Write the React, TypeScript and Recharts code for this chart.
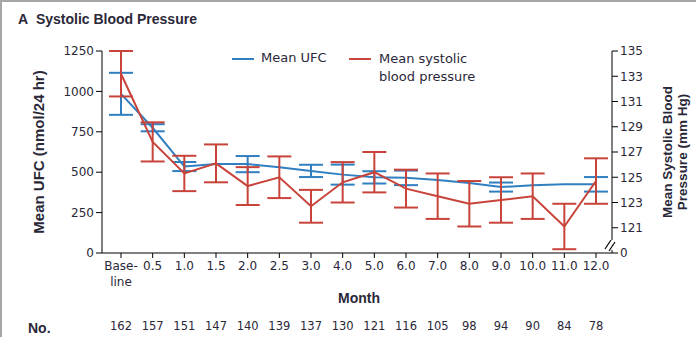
import React from 'react';
import { LineChart, Line, XAxis, YAxis, ErrorBar } from 'recharts';

// months after start of treatment
const months = ['Base-\nline', '0.5', '1.0', '1.5', '2.0', '2.5', '3.0', '4.0', '5.0', '6.0', '7.0', '8.0', '9.0', '10.0', '11.0', '12.0'];
// mean urinary free cortisol, nmol/24 hr
const ufc = [985, 775, 535, 550, 550, 530, 508, 485, 468, 465, 452, 433, 408, 419, 425, 425];
const ufcErr = [130, 22, 28, null, 50, null, 38, 62, 38, 45, null, null, 28, null, null, 45];
// mean systolic blood pressure, mm Hg
const sbp = [133.2, 127.8, 125.3, 126.1, 124.3, 125.0, 122.7, 124.6, 125.4, 124.1, 123.5, 122.9, 123.2, 123.5, 121.1, 124.7];
const sbpErr = [1.8, 1.55, 1.4, 1.5, 1.5, 1.65, 1.3, 1.6, 1.6, 1.5, 1.8, 1.8, 1.8, 1.8, 1.8, 1.8];
// patients at each visit
const counts = [162, 157, 151, 147, 140, 139, 137, 130, 121, 116, 105, 98, 94, 90, 84, 78];

const ufcTicks = [0, 250, 500, 750, 1000, 1250];
const sbpTicks = [119, 121, 123, 125, 127, 129, 131, 133, 135];

const BLUE = '#2f7fc1';
const RED = '#c8433a';
const INK = '#2a2838';
const TICK_FONT = '"DejaVu Sans", sans-serif';
const BOLD_FONT = '"Liberation Sans", Arial, sans-serif';

const data = months.map((m, i) => ({
  month: m,
  ufc: ufc[i],
  ufcErr: ufcErr[i],
  sbp: sbp[i],
  sbpErr: sbpErr[i],
}));

function MonthTick(props: any) {
  const { x, y, payload, index } = props;
  const lines = String(payload.value).split('\n');
  return (
    <g>
      {lines.map((l, i) => (
        <text key={i} x={x} y={y + 10 + i * 16} textAnchor="middle" fontSize={12} fontFamily={TICK_FONT} fill={INK}>
          {l}
        </text>
      ))}
      <text x={x} y={y + 70} textAnchor="middle" fontSize={11.5} fontFamily={TICK_FONT} fill={INK}>
        {counts[index]}
      </text>
    </g>
  );
}

export default function App() {
  return (
    <div style={{ position: 'absolute', left: 0, top: 0, width: 696, height: 337, background: '#fff', overflow: 'hidden' }}>
      <div style={{ position: 'absolute', left: 0, top: 0, right: 0, height: 2, background: '#a6a6a6' }} />
      <div style={{ position: 'absolute', left: 0, top: 0, bottom: 0, width: 2, background: '#a6a6a6' }} />

      <div style={{ position: 'absolute', left: 18, top: 11, fontFamily: BOLD_FONT, fontWeight: 'bold', fontSize: 14, color: INK, whiteSpace: 'nowrap' }}>
        A&nbsp;&nbsp;Systolic Blood Pressure
      </div>

      <LineChart width={696} height={337} data={data} margin={{ top: 51, right: 24, left: 42, bottom: 54 }}>
        <XAxis
          dataKey="month"
          scale="point"
          padding={{ left: 19, right: 16 }}
          height={30}
          interval={0}
          tickSize={5}
          stroke="#000"
          tick={<MonthTick />}
        />
        <YAxis
          yAxisId="ufc"
          domain={[0, 1250]}
          ticks={ufcTicks}
          width={60}
          tickSize={6}
          tickMargin={2}
          stroke="#000"
          tick={{ fontSize: 12, fontFamily: TICK_FONT, fill: INK }}
          interval={0}
        />
        <YAxis
          yAxisId="sbp"
          orientation="right"
          domain={[119, 135]}
          ticks={sbpTicks}
          allowDataOverflow
          width={60}
          tickSize={6}
          tickMargin={2}
          stroke="#000"
          tick={{ fontSize: 12, fontFamily: TICK_FONT, fill: INK }}
          tickFormatter={(v: number) => (v === 119 ? '0' : String(v))}
          interval={0}
        />
        <Line yAxisId="ufc" dataKey="ufc" stroke={BLUE} strokeWidth={2} dot={false} isAnimationActive={false}>
          <ErrorBar dataKey="ufcErr" direction="y" width={12} stroke={BLUE} strokeWidth={2} />
        </Line>
        <Line yAxisId="sbp" dataKey="sbp" stroke={RED} strokeWidth={2} dot={false} isAnimationActive={false}>
          <ErrorBar dataKey="sbpErr" direction="y" width={12} stroke={RED} strokeWidth={2} />
        </Line>
      </LineChart>

      {/* axis break on the right axis */}
      <svg width={696} height={337} style={{ position: 'absolute', left: 0, top: 0, pointerEvents: 'none' }}>
        <rect x={608} y={240} width={8} height={10} fill="#fff" />
        <line x1={605} y1={249} x2={611} y2={240} stroke="#000" strokeWidth={1.2} />
        <line x1={609} y1={251} x2={615} y2={242} stroke="#000" strokeWidth={1.2} />
      </svg>

      {/* legend */}
      <div style={{ position: 'absolute', left: 232, top: 58, width: 22, height: 2, background: BLUE }} />
      <div style={{ position: 'absolute', left: 261, top: 50, fontFamily: TICK_FONT, fontSize: 13, color: INK, whiteSpace: 'nowrap' }}>Mean UFC</div>
      <div style={{ position: 'absolute', left: 349, top: 58, width: 22, height: 2, background: RED }} />
      <div style={{ position: 'absolute', left: 379, top: 50, fontFamily: TICK_FONT, fontSize: 13, lineHeight: '18px', color: INK, whiteSpace: 'nowrap' }}>
        Mean systolic
        <br />
        blood pressure
      </div>

      {/* axis titles */}
      <div style={{ position: 'absolute', left: 38, top: 152, transform: 'translate(-50%, -50%) rotate(-90deg)', fontFamily: BOLD_FONT, fontWeight: 'bold', fontSize: 15, color: INK, whiteSpace: 'nowrap' }}>
        Mean UFC (nmol/24 hr)
      </div>
      <div style={{ position: 'absolute', left: 675, top: 152, transform: 'translate(-50%, -50%) rotate(-90deg)', fontFamily: BOLD_FONT, fontWeight: 'bold', fontSize: 13.5, lineHeight: '15px', color: INK, whiteSpace: 'nowrap', textAlign: 'center' }}>
        Mean Systolic Blood
        <br />
        Pressure (mm Hg)
      </div>
      <div style={{ position: 'absolute', left: 359, top: 298, transform: 'translate(-50%, -50%)', fontFamily: BOLD_FONT, fontWeight: 'bold', fontSize: 14, color: INK }}>
        Month
      </div>
      <div style={{ position: 'absolute', left: 28, top: 320, fontFamily: BOLD_FONT, fontWeight: 'bold', fontSize: 14, color: INK }}>
        No.
      </div>
    </div>
  );
}
